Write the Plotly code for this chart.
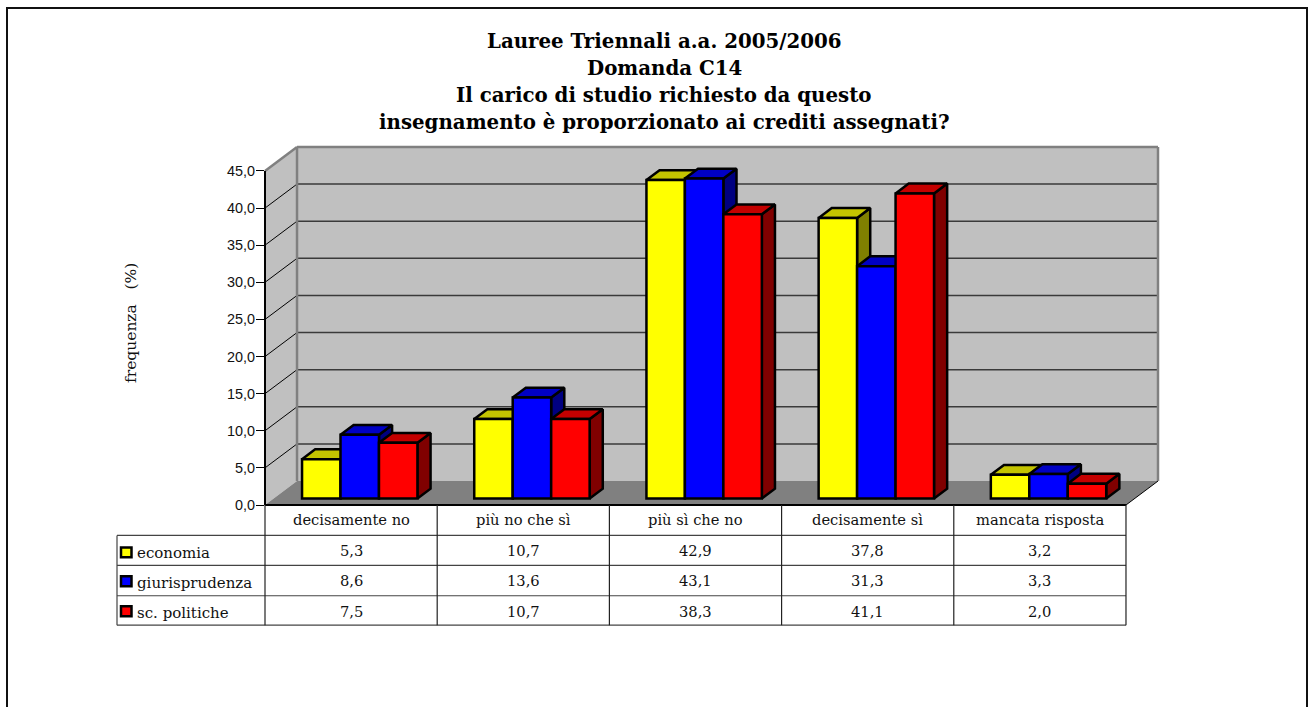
import plotly.graph_objects as go

categories = ["decisamente no", "più no che sì", "più sì che no", "decisamente sì", "mancata risposta"]
series_names = ["economia", "giurisprudenza", "sc. politiche"]
economia = [5.3, 10.7, 42.9, 37.8, 3.2]
giurisprudenza = [8.6, 13.6, 43.1, 31.3, 3.3]
politiche = [7.5, 10.7, 38.3, 41.1, 2.0]
y_ticks = [0, 5, 10, 15, 20, 25, 30, 35, 40, 45]
title_lines = ["Lauree Triennali a.a. 2005/2006", "Domanda C14",
               "Il carico di studio richiesto da questo",
               "insegnamento è proporzionato ai crediti assegnati?"]
front_colors = ["#ffff00", "#0000ff", "#ff0000"]
top_colors = ["#c4c400", "#0000c4", "#c40000"]
side_colors = ["#808000", "#000080", "#800000"]

# pixel layout of the plot area
L, R, T, B = 265.0, 1158.0, 146.5, 505.5
W, H = 1311, 707
CAT_PX = 172.12
UNIT_PX = 7.44
DX = 32 / CAT_PX      # wall depth in category units
DY = 24 / UNIT_PX     # wall depth in value units
XMAX = 5 + DX
YMAX = 45 + DY
F0, F1 = 0.27, 0.68   # front and back of bars as fraction of floor depth
BW = 38.45 / CAT_PX   # bar width


def fmt(v):
    return f"{v:.1f}".replace(".", ",")


def px(p):
    return (p - L) / (R - L)


def py(p):
    return (B - p) / (B - T)


def dx(x):
    return x / XMAX


def dy(y):
    return y / YMAX


def fx(f):
    return f * DX


def fy(f):
    return f * DY


def poly(points):
    return "M " + " L ".join(f"{dx(x)},{dy(y)}" for x, y in points) + " Z"


shapes = []


def add_poly(points, fill, color="rgba(0,0,0,0)", width=0):
    shapes.append(dict(type="path", xref="paper", yref="paper", path=poly(points),
                       fillcolor=fill, line=dict(color=color, width=width), layer="below"))


def add_line(x0, y0, x1, y1, color, width, layer="below"):
    shapes.append(dict(type="line", xref="paper", yref="paper", x0=x0, y0=y0, x1=x1, y1=y1,
                       line=dict(color=color, width=width), layer=layer))


# outer frame
shapes.append(dict(type="rect", xref="paper", yref="paper", x0=px(7), x1=px(1307), y0=py(7), y1=py(720),
                   line=dict(color="#111111", width=2), fillcolor="rgba(0,0,0,0)", layer="below"))

# walls and floor
add_poly([(0, 0), (DX, DY), (DX, 45 + DY), (0, 45)], "#c0c0c0")
add_poly([(DX, DY), (5 + DX, DY), (5 + DX, 45 + DY), (DX, 45 + DY)], "#c0c0c0")
add_poly([(0, 0), (5, 0), (5 + DX, DY), (DX, DY)], "#808080")
for v in y_ticks[1:-1]:
    add_line(dx(DX), dy(v + DY), dx(5 + DX), dy(v + DY), "#3a3a3a", 1.5)
for v in y_ticks[1:-1]:
    add_line(dx(0), dy(v), dx(DX), dy(v + DY), "#000000", 1)
# wall edges
add_line(dx(0), dy(45), dx(DX), dy(45 + DY), "#808080", 2.5)
add_line(dx(DX), dy(45 + DY), dx(5 + DX), dy(45 + DY), "#808080", 2.5)
add_line(dx(DX), dy(DY), dx(DX), dy(45 + DY), "#808080", 2.5)
add_line(dx(5 + DX), dy(DY), dx(5 + DX), dy(45 + DY), "#808080", 2.5)
add_line(dx(5), dy(0), dx(5 + DX), dy(DY), "#000000", 1)
add_line(dx(0), dy(0), dx(0), dy(45), "#000000", 2)

# data table lines
add_line(dx(0), dy(0), dx(5), dy(0), "#000000", 2)
for row_y in [536, 566, 596.5, 626]:
    add_line(px(117), py(row_y), dx(5), py(row_y), "#444444", 1.2)
add_line(px(117), py(536), px(117), py(626), "#444444", 1.2)
for i in range(6):
    add_line(dx(i), dy(0), dx(i), py(626), "#222222", 1.2)

fig = go.Figure()
all_values = [economia, giurisprudenza, politiche]
for k, values in enumerate(all_values):
    top_x, top_y, side_x, side_y = [], [], [], []
    centers = []
    for i, v in enumerate(values):
        c = i + 0.5 + fx(F0) + (k - 1) * BW
        centers.append(c)
        x0, x1 = c - BW / 2, c + BW / 2
        yb, yt = fy(F0), v + fy(F0)
        d_x, d_y = fx(F1 - F0), fy(F1 - F0)
        top_x += [x0, x1, x1 + d_x, x0 + d_x, x0, None]
        top_y += [yt, yt, yt + d_y, yt + d_y, yt, None]
        side_x += [x1, x1 + d_x, x1 + d_x, x1, x1, None]
        side_y += [yb, yb + d_y, yt + d_y, yt, yb, None]
    z = 2 * k + 1
    for xs, ys, col, part in [(side_x, side_y, side_colors[k], "lato"), (top_x, top_y, top_colors[k], "cima")]:
        fig.add_trace(go.Scatter(x=xs, y=ys, mode="lines", fill="toself", fillcolor=col,
                                 line=dict(color="#000000", width=2.5), hoverinfo="skip",
                                 name=f"{series_names[k]} {part}", showlegend=False,
                                 cliponaxis=False, zorder=z))
    fig.add_trace(go.Bar(x=centers, y=values, base=fy(F0), width=BW, name=series_names[k],
                         marker=dict(color=front_colors[k], line=dict(color="#000000", width=2.5)),
                         cliponaxis=False, showlegend=False, zorder=z + 1))

annotations = []
SERIF = "DejaVu Serif"
title_y = [40, 67, 94, 121]
for line, yy in zip(title_lines, title_y):
    annotations.append(dict(text=f"<b>{line}</b>", xref="paper", yref="paper", x=px(664), y=py(yy),
                            showarrow=False, xanchor="center", yanchor="middle",
                            font=dict(family=SERIF, size=19.8, color="#000000")))
annotations.append(dict(text="frequenza   (%)", xref="paper", yref="paper", x=px(131), y=py(323), textangle=-90,
                        showarrow=False, xanchor="center", yanchor="middle",
                        font=dict(family=SERIF, size=15.5, color="#111111")))
for i, c in enumerate(categories):
    annotations.append(dict(text=c, xref="paper", yref="paper", x=dx(i + 0.5), y=py(520), showarrow=False,
                            xanchor="center", yanchor="middle", font=dict(family=SERIF, size=14.7, color="#111111")))
row_centers = [551, 581, 612]
key_centers = [553, 582, 612]
label_centers = [554, 584, 614]
for k, values in enumerate(all_values):
    annotations.append(dict(text=series_names[k], xref="paper", yref="paper", x=px(134.5), y=py(label_centers[k]),
                            showarrow=False, xanchor="left", yanchor="middle",
                            font=dict(family=SERIF, size=15, color="#111111")))
    shapes.append(dict(type="rect", xref="paper", yref="paper", x0=px(121), x1=px(131.5),
                       y0=py(key_centers[k] + 5), y1=py(key_centers[k] - 5), fillcolor=front_colors[k],
                       line=dict(color="#000000", width=2.5), layer="above"))
    for i, v in enumerate(values):
        annotations.append(dict(text=fmt(v), xref="paper", yref="paper", x=dx(i + 0.5), y=py(row_centers[k]),
                                showarrow=False, xanchor="center", yanchor="middle",
                                font=dict(family=SERIF, size=14.7, color="#111111")))

fig.update_layout(
    width=W, height=H, autosize=False,
    margin=dict(l=L, r=W - R, t=T, b=H - B, pad=0),
    paper_bgcolor="#ffffff", plot_bgcolor="#ffffff",
    barmode="overlay", showlegend=False, shapes=shapes, annotations=annotations,
    xaxis=dict(range=[0, XMAX], visible=False, showgrid=False, zeroline=False),
    yaxis=dict(range=[0, YMAX], tickmode="array", tickvals=y_ticks, ticktext=[fmt(v) for v in y_ticks],
               showgrid=False, zeroline=False, showline=False, ticks="outside", ticklen=8, tickwidth=1,
               ticklabelstandoff=-2, tickcolor="#000000", automargin=False,
               tickfont=dict(family="Liberation Sans", size=14.4, color="#111111")),
)
fig.write_html("out.html", config={"displayModeBar": False},
               post_script="document.body.style.margin='0';document.body.style.overflow='hidden';")
